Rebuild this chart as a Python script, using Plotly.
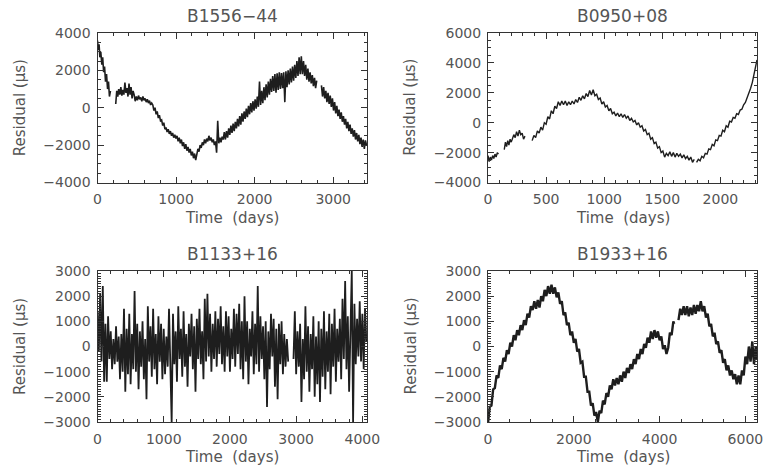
import plotly.graph_objects as go

W, H = 765, 465

# ---------------- Data ----------------
# B1556-44
p1_days = [0, 10, 20, 30, 42, 55, 66, 78, 90, 102, 115, 128, 140, 152, 165, None,
           232, 245, 258, 270, 284, 297, 310, 323, 336, 349, 362, 375, 388, 401, 414, 427, 440, 453,
           466, 480, 494, 508, 522, 536, 550, 564, 578, 592, 606, 620, 634, 648, 662, 676, 690,
           704, 718, 732, 746, 760, 774, 788, 802, 816, 830, 844, 858, 872, 886, 900, 914, 928, 942,
           956, 970, 984, 998, 1012, 1026, 1040, 1054, 1068, 1082, 1096, 1110, 1124, 1138, 1152, 1166,
           1180, 1194, 1208, 1222, 1236, 1250,
           1264, 1278, 1292, 1306, 1320, 1334, 1348, 1362, 1376, 1390, 1404, 1418, 1432, 1446, 1460,
           1474, 1488, 1502, 1516, 1530, 1544, 1558, 1572, 1586, 1600,
           1614, 1628, 1642, 1656, 1670, 1684, 1698, 1712, 1726, 1740, 1754, 1768, 1782, 1796, 1810,
           1824, 1838, 1852, 1866, 1880, 1894, 1908, 1922, 1936, 1950, 1964, 1978, 1992, 2006, 2020,
           2034, 2048, 2062, 2076, 2090, 2104, 2118, 2132, 2146, 2160, 2174, 2188, 2202, 2216, 2230,
           2244, 2258, 2272, 2286, 2300, 2314, 2328, 2342, 2356, 2370, 2384, 2398, 2412, 2426, 2440,
           2454, 2468, 2482, 2496, 2510, 2524, 2538, 2552, 2566, 2580, 2594,
           2608, 2622, 2636, 2650, 2664, 2678, 2692, 2706, 2720, 2734, 2748, 2762, 2776, 2790, None,
           2850, 2864, 2878, 2892, 2906, 2920, 2934, 2948, 2962, 2976, 2990, 3004, 3018, 3032, 3046,
           3060, 3074, 3088, 3102, 3116, 3130, 3144, 3158, 3172, 3186, 3200, 3214, 3228, 3242, 3256,
           3270, 3284, 3298, 3312, 3326, 3340, 3354, 3368, 3382, 3396, 3410, 3424]
p1_res = [3600, 3100, 3400, 2700, 3000, 2300, 2700, 1900, 2200, 1400, 1800, 1000, 1400, 600, 900, None,
          200, 900, 600, 1000, 700, 1100, 650, 950, 700, 1350, 800, 1050, 600, 1300, 700, 1100, 500, 900,
          700, 350, 600, 400, 650, 450, 550, 350, 600, 400, 500, 300, 450, 250, 380, 150, 250,
          150, -150, 0, -350, -200, -550, -400, -700, -650, -950, -800, -1150, -1050, -1300, -1150,
          -1400, -1250, -1500, -1350, -1600, -1450, -1650, -1500, -1800, -1600, -1900, -1700, -2050,
          -1850, -2200, -1950, -2300, -2100, -2400, -2200, -2550, -2350, -2700, -2450, -2800,
          -2500, -2200, -2350, -2000, -2150, -1850, -2000, -1700, -1900, -1650, -1800, -1500, -1750,
          -1600, -1850, -1700, -2000, -1800, -2400, -700, -1900, -1600, -1850, -1550, -1700,
          -1300, -1700, -1250, -1600, -1100, -1450, -950, -1350, -850, -1250, -750, -1100, -600, -1000,
          -450, -900, -300, -750, -200, -600, -50, -500, 100, -350, 250, -250, 350, -150, 450, -50,
          600, 50, 1400, 150, 900, 250, 1100, 400, 1250, 550, 1400, 700, 1550, 850, 1700,
          900, 1800, 800, 1850, 950, 1900, 1000, 1850, 1050, 1900, 300, 1950, 1100, 2000, 1250,
          2100, 1350, 2200, 1450, 2300, 1600, 2500, 1700, 2700, 1800, 2750,
          1800, 2500, 1700, 2300, 1500, 2100, 1400, 1900, 1300, 1750, 1150, 1600, 1050, 1450, None,
          1200, 600, 1100, 500, 900, 300, 800, 200, 650, 50, 500, -150, 300, -300, 100,
          -450, -100, -600, -250, -750, -450, -900, -600, -1100, -750, -1250, -900, -1400, -1100, -1550,
          -1200, -1700, -1350, -1800, -1450, -1950, -1600, -2100, -1700, -2200, -1750, -2000]

# B0950+08
p2_days = [0, 10, 20, 30, 40, 50, 60, 70, 80, 90, None,
           140, 150, 160, 170, 180, 190, 200,
           210, 222, 234, 246, 258, 270, 282, 294, 306, 318, None,
           380, 395, 410, 425, 440, 455, 470, 485, 500, 515, 530, 545, 560, 575, 590, 605, 620, 635,
           650, 665, 680, 695, 710, 725, 740, 755, 770, 785, 800, 815, 830, 845, 860, 875, 890, 905,
           920, 935, 950, 965, 980, 995, 1010, 1025, 1040, 1055, 1070, 1085, 1100, 1115, 1130, 1145,
           1160, 1175, 1190, 1205, 1220, 1235, 1250, 1265, 1280, 1295, 1310, 1325, 1340, 1355, 1370,
           1385, 1400, 1415, 1430, 1445, 1460, 1475, 1490, 1505, 1520, 1535, 1550, 1565, 1580, 1595,
           1610, 1625, 1640, 1655, 1670, 1685, 1700, 1715, 1730, 1745, 1760, 1775, None,
           1795, 1810, 1825, 1840, 1855, 1870, 1885, 1900, 1915, 1930, 1945, 1960, 1975, 1990, 2005,
           2020, 2035, 2050, 2065, 2080, 2095, 2110, 2125, 2140, 2155, 2170, 2185, 2200, 2215, 2230,
           2245, 2260, 2275, 2290, 2305, 2315]
p2_res = [-2200, -2600, -2300, -2500, -2200, -2400, -2100, -2300, -2000, -2100, None,
          -1800, -1300, -1600, -1200, -1500, -1100, -1300,
          -1100, -800, -1000, -600, -900, -500, -800, -700, -1100, -900, None,
          -1200, -850, -1000, -550, -700, -300, -500, 0, -100, 400, 250, 800, 600, 1100, 950, 1400,
          1150, 1450, 1200, 1450, 1150, 1400, 1200, 1450, 1250, 1550, 1350, 1700, 1500, 1800, 1600,
          1950, 1750, 2150, 1850, 2200, 1800, 1900, 1550, 1650, 1250, 1400, 1050, 1150, 800, 950,
          600, 700, 450, 650, 400, 600, 350, 550, 300, 450, 150, 300, 50, 150, -150, 0, -300, -200,
          -550, -450, -800, -700, -1100, -1000, -1400, -1300, -1700, -1600, -2000, -1900, -2300,
          -2050, -2200, -1950, -2250, -2000, -2300, -2050, -2250, -2100, -2350, -2150, -2400, -2250,
          -2500, -2300, -2650, -2450, None,
          -2650, -2450, -2550, -2250, -2350, -2050, -2100, -1750, -1800, -1450, -1550, -1150, -1200,
          -850, -900, -500, -600, -200, -300, 100, 50, 350, 300, 600, 550, 850, 900, 1200, 1350,
          1650, 1900, 2300, 2700, 3200, 3800, 4200]

# B1133+16
p3_days = [0, 20, 40, 60, 80, 100, 120, 140, 160, 180,
           200, 220, 240, 260, 280, 300, 320, 340, 360, 380,
           400, 420, 440, 460, 480, 500, 520, 540, 560, 580,
           600, 620, 640, 660, 680, 700, 720, 740, 760, 780,
           800, 820, 840, 860, 880, 900, 920, 940, 960, 980,
           1000, 1020, 1040, 1060, 1080, 1100, 1120, 1140, 1160, 1180,
           1200, 1220, 1240, 1260, 1280, 1300, 1320, 1340, 1360, 1380,
           1400, 1420, 1440, 1460, 1480, 1500, 1520, 1540, 1560, 1580,
           1600, 1620, 1640, 1660, 1680, 1700, 1720, 1740, 1760, 1780,
           1800, 1820, 1840, 1860, 1880, 1900, 1920, 1940, 1960, 1980,
           2000, 2020, 2040, 2060, 2080, 2100, 2120, 2140, 2160, 2180,
           2200, 2220, 2240, 2260, 2280, 2300, 2320, 2340, 2360, 2380,
           2400, 2420, 2440, 2460, 2480, 2500, 2520, 2540, 2560, 2580,
           2600, 2620, 2640, 2660, 2680, 2700, 2720, 2740, 2760, 2780,
           2800, 2820, 2840, 2860, 2880, None,
           2960, 2980, 3000, 3020, 3040, 3060, 3080, 3100, 3120, 3140,
           3160, 3180, 3200, 3220, 3240, 3260, 3280, 3300, 3320, 3340,
           3360, 3380, 3400, 3420, 3440, 3460, 3480, 3500, 3520, 3540,
           3560, 3580, 3600, 3620, 3640, 3660, 3680, 3700, 3720, 3740,
           3760, 3780, 3800, 3820, 3840, 3860, 3880, 3900, 3920, 3940,
           3960, 3980, 4000, 4020, 4040, 4060]
p3_res = [1400, -200, 2100, -600, 2400, -1400, 900, -1400, 1200, -500,
          600, -900, 300, -700, 800, -600, 400, -1300, 500, -1000,
          1500, -1800, 700, -1100, 1300, -1500, 500, -900, 2200, -1000,
          900, -1700, 600, -800, 1000, -1300, 300, -2100, 1600, -600,
          800, -1200, 1500, -900, 500, -1500, 1200, -600, 900, -1300,
          700, -1100, 400, -800, 1500, -1000, -3000, 1300, -700, 600,
          -1400, 1600, -500, 700, -1200, 1400, -800, 500, -1600, 900,
          -400, 1300, -900, 800, -1800, 1100, -500, 1500, -700, 600,
          -1300, 1900, -600, 2100, -400, 1300, -1000, 900, -500, 1400,
          -800, 1100, -300, 1600, -700, 800, -1000, 1400, -400, 1200,
          -1000, 700, -500, 1500, -800, 1300, -300, 1700, -900, 1000,
          -1300, 2000, -600, 1000, -1500, 700, -400, 1400, -1100, 900,
          -700, 2400, -1000, 1200, -500, 800, -1300, 1000, -2400, 600,
          -900, 1300, -400, 1100, -1600, 700, -2100, 900, -700, 1000,
          -1100, 500, -800, 300, -600, None,
          -500, 1400, -1100, 600, -800, 900, -2200, 300, -1300, 1600,
          -1000, 800, -1800, 500, -900, 1200, -2000, 400, -1500, 1000,
          -2200, 700, -1200, 1400, -1700, 600, -1000, 1300, -1900, 900,
          -800, 1500, -1400, 700, -600, 1100, -1300, 1900, -500, 2600,
          -900, 1200, -1800, 800, 3000, -3000, 1700, -700, 1100, -400,
          1800, -600, 1300, -900, 1500, 200]

# B1933+16
p4_days = [0, 40, 80, 120, 160, 200, 240, 280, 320, 360, 400, 440, 480, 520, 560, 600, 640, 680,
           720, 760, 800, 840, 880, 920, 960, 1000, 1040, 1080, 1120, 1160, 1200, 1240, 1280, 1320,
           1360, 1400, 1440, 1480, 1520, 1560, 1600, 1640, 1680, 1720, 1760, 1800, 1840, 1880, 1920,
           1960, 2000, 2040, 2080, 2120, 2160, 2200, 2240, 2280, 2320, 2360, 2400, 2440, 2480, 2520,
           2560, 2600, 2640, 2680, 2720, 2760, 2800, 2840, 2880, 2920, 2960, 3000, 3040, 3080, 3120,
           3160, 3200, 3240, 3280, 3320, 3360, 3400, 3440, 3480, 3520, 3560, 3600, 3640, 3680, 3720,
           3760, 3800, 3840, 3880, 3920, 3960, 4000, 4040, 4080, 4120, 4160, 4200, 4240, 4280, 4320,
           4340, None,
           4440, 4480, 4520, 4560, 4600, 4640, 4680, 4720, 4760, 4800, 4840, 4880, 4920, 4960, 5000,
           5040, 5080, 5120, 5160, 5200, 5240, 5280, 5320, 5360, 5400, 5440, 5480, 5520, 5560, 5600,
           5640, 5680, 5720, 5760, 5800, 5840, 5880, 5920, 5960, 6000, 6040, 6080, 6120, 6160, 6200,
           6240, 6270]
p4_res = [-3050, -2400, -2350, -1700, -1650, -1150, -1250, -750, -900, -450, -600, -150, -300, 150,
          0, 450, 250, 650, 450, 850, 650, 1050, 850, 1300, 1150, 1600, 1450, 1800, 1500, 1850, 1550,
          2000, 1800, 2250, 2000, 2400, 2100, 2450, 2100, 2350, 1950, 2150, 1700, 1800, 1250, 1350,
          850, 950, 450, 600, 150, 300, -200, -100, -650, -600, -1200, -1200, -1800, -1800, -2350,
          -2250, -2750, -2600, -3000, -2550, -2650, -2150, -2300, -1850, -2000, -1550, -1700, -1300,
          -1550, -1250, -1500, -1150, -1400, -1000, -1250, -850, -1050, -700, -900, -500, -700, -300,
          -500, -100, -300, 100, -50, 350, 150, 600, 300, 650, 350, 600, 250, 400, -100, 50, -300,
          -50, 550, 450, 1000, 900, None,
          1050, 1500, 1250, 1600, 1250, 1600, 1200, 1550, 1250, 1650, 1300, 1650, 1400, 1800, 1400,
          1600, 1150, 1300, 800, 900, 400, 550, 100, 200, -250, -150, -650, -500, -950, -750, -1150,
          -950, -1300, -1100, -1500, -1150, -1500, -950, -1150, -400, -700, 0, -600, 200, -700, 0,
          -500]

panels = [
    dict(name="B1556\u221244", days=p1_days, res=p1_res, xr=[0, 3430], yr=[-4000, 4000],
         xd=1000, xm=200, yd=2000, ym=500, lw=1.6),
    dict(name="B0950+08", days=p2_days, res=p2_res, xr=[0, 2315], yr=[-4000, 6000],
         xd=500, xm=100, yd=2000, ym=500, lw=1.4),
    dict(name="B1133+16", days=p3_days, res=p3_res, xr=[0, 4070], yr=[-3000, 3000],
         xd=1000, xm=200, yd=1000, ym=100, lw=1.8),
    dict(name="B1933+16", days=p4_days, res=p4_res, xr=[0, 6270], yr=[-3000, 3000],
         xd=2000, xm=500, yd=1000, ym=100, lw=2.4),
]

# plot boxes in pixels: (left, right, top, bottom)
boxes = [(97.5, 367, 33, 182.5), (488, 757, 33, 182.5),
         (97.5, 367, 271, 422), (488, 757, 271, 422)]

FONT = "DejaVu Sans"
TXT = "#555555"
LINE = "#333333"


def px_x(v):
    return v / W


def px_y(v):
    return 1 - v / H


fig = go.Figure()
layout = dict(width=W, height=H,
              margin=dict(l=0, r=0, t=0, b=0, autoexpand=False),
              paper_bgcolor="white", plot_bgcolor="white", showlegend=False,
              annotations=[])

for i, (p, b) in enumerate(zip(panels, boxes)):
    k = "" if i == 0 else str(i + 1)
    fig.add_trace(go.Scatter(x=p["days"], y=p["res"], mode="lines",
                             line=dict(color="#1e1e1e", width=p["lw"]),
                             connectgaps=False, xaxis="x" + k, yaxis="y" + k,
                             hoverinfo="skip", cliponaxis=True))
    common = dict(showline=True, linecolor=LINE, linewidth=1, mirror="allticks",
                  ticks="inside", ticklen=6, tickcolor=LINE, tickwidth=1,
                  showgrid=False, zeroline=False, automargin=False,
                  tickfont=dict(family=FONT, size=14, color=TXT))
    layout["xaxis" + k] = dict(common, domain=[px_x(b[0]), px_x(b[1])],
                               range=p["xr"], tick0=0, dtick=p["xd"],
                               anchor="y" + k, ticklabelstandoff=4,
                               minor=dict(ticks="inside", ticklen=3, tickcolor=LINE,
                                          dtick=p["xm"], tick0=0, showgrid=False))
    layout["yaxis" + k] = dict(common, domain=[px_y(b[3]), px_y(b[2])],
                               range=p["yr"], tick0=0, dtick=p["yd"],
                               anchor="x" + k, ticklabelstandoff=3,
                               minor=dict(ticks="inside", ticklen=3, tickcolor=LINE,
                                          dtick=p["ym"], tick0=0, showgrid=False))
    cx = (b[0] + b[1]) / 2
    layout["annotations"].append(dict(
        text=p["name"], x=px_x(cx), y=px_y(b[2] - 17), xref="paper", yref="paper",
        showarrow=False, xanchor="center", yanchor="middle",
        font=dict(family=FONT, size=17, color=TXT)))
    layout["annotations"].append(dict(
        text="Time  (days)", x=px_x(cx), y=px_y(b[3] + 35), xref="paper", yref="paper",
        showarrow=False, xanchor="center", yanchor="middle",
        font=dict(family=FONT, size=15, color=TXT)))
    layout["annotations"].append(dict(
        text="Residual (\u03bcs)", x=px_x(b[0] - 78), y=px_y((b[2] + b[3]) / 2),
        xref="paper", yref="paper", showarrow=False, textangle=-90,
        xanchor="center", yanchor="middle",
        font=dict(family=FONT, size=15, color=TXT)))

fig.update_layout(**layout)
fig.write_html("out.html",
               config={"displayModeBar": False, "staticPlot": True},
               post_script="document.body.style.margin='0px';document.body.style.overflow='hidden';")
